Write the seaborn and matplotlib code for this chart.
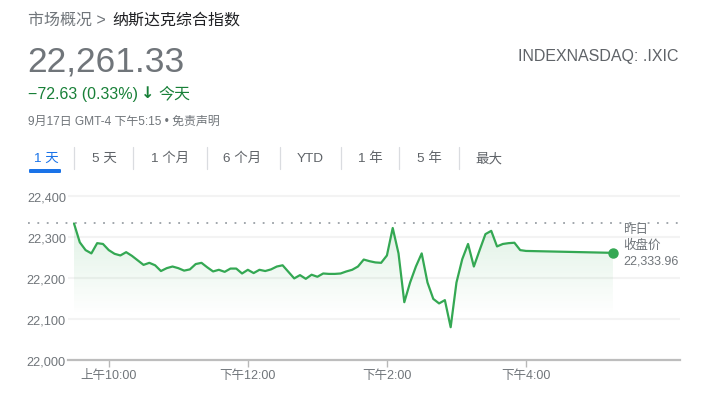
import numpy as np
import pandas as pd
import matplotlib
matplotlib.use("Agg")
import matplotlib.pyplot as plt
import seaborn as sns
from matplotlib.colors import to_rgb
from matplotlib.patches import FancyBboxPatch
from matplotlib.lines import Line2D

# ---------------- data ----------------
session_times = list(pd.date_range("2025-09-17 09:30", "2025-09-17 16:00", freq="5min").strftime("%H:%M")) + ["17:15"]
prices = [
    22333, 22287, 22268, 22260, 22285, 22283, 22268, 22259, 22255, 22263,
    22254, 22243, 22232, 22237, 22231, 22217, 22224, 22228, 22224, 22218,
    22221, 22234, 22237, 22226, 22216, 22220, 22215, 22223, 22223, 22211,
    22220, 22212, 22220, 22217, 22221, 22228, 22231, 22215, 22199, 22207,
    22198, 22208, 22203, 22211, 22210, 22210, 22211, 22216, 22220, 22228,
    22245, 22241, 22238, 22237, 22255, 22322, 22260, 22141, 22189, 22228,
    22260, 22189, 22149, 22138, 22146, 22080, 22189, 22246, 22283, 22228,
    22268, 22307, 22315, 22277, 22283, 22285, 22286, 22268, 22266,
    22261.33,
]
prev_close = 22333.96
y_ticks = [22000, 22100, 22200, 22300, 22400]
y_tick_labels = ["22,000", "22,100", "22,200", "22,300", "22,400"]
x_tick_times = ["10:00", "12:00", "14:00", "16:00"]
x_tick_labels = ["上午10:00", "下午12:00", "下午2:00", "下午4:00"]
tabs = ["1 天", "5 天", "1 个月", "6 个月", "YTD", "1 年", "5 年", "最大"]

def to_min(t):
    h, m = t.split(":")
    return int(h) * 60 + int(m)

df = pd.DataFrame({"t": [to_min(t) for t in session_times], "price": prices})

# ---------------- style ----------------
sns.set_theme(style="white")
plt.rcParams["font.family"] = ["Liberation Sans", "Noto Sans CJK SC", "DejaVu Sans"]

W, H = 722, 402
fig = plt.figure(figsize=(W / 100, H / 100), dpi=100)

def fx(x):
    return x / W

def fy(y):
    return 1 - y / H

GREEN = "#34a853"
GRAY = "#70757a"
DARK = "#202124"

# axes placement
ymin, ymax = 22000, 22420
px_per_unit = 0.41
ax_left, ax_right, ax_bottom = 68, 680, 361
ax_top = ax_bottom - (ymax - ymin) * px_per_unit
ax = fig.add_axes([fx(ax_left), fy(ax_bottom), (ax_right - ax_left) / W, (ax_bottom - ax_top) / H])

xmin = 570 - 6 / 1.159
xmax = 960 + (680 - 526) / 1.159

# gradient fill under line
poly = ax.fill_between(df["t"], df["price"], 22110, color="none", lw=0)
grad = np.linspace(0.16, 0.0, 256)
rgba = np.zeros((256, 1, 4))
rgba[..., :3] = to_rgb(GREEN)
rgba[:, 0, 3] = grad
im = ax.imshow(rgba, extent=[df["t"].min(), df["t"].max(), 22110, 22340],
               aspect="auto", origin="upper", zorder=1, interpolation="bilinear")
im.set_clip_path(poly.get_paths()[0], transform=ax.transData)

# grid lines
for v in [22100, 22200, 22300, 22400]:
    ax.axhline(v, color="#f3f3f3", lw=1.5, zorder=0.5)

# line
sns.lineplot(data=df, x="t", y="price", ax=ax, color=GREEN, lw=1.6, zorder=3)
ax.plot([df["t"].iloc[-1]], [df["price"].iloc[-1]], "o", color=GREEN, ms=6.5, zorder=4)

# previous close dotted line (extends left beyond the axes)
ax.plot([-0.066, 1.0], [prev_close, prev_close], transform=ax.get_yaxis_transform(),
        color="#9aa0a6", lw=1.3, ls=(0, (1, 4.2)), clip_on=False, zorder=2)

ax.set_xlim(xmin, xmax)
ax.set_ylim(ymin, ymax)
ax.set_xlabel("")
ax.set_ylabel("")
ax.set_yticks(y_ticks)
ax.set_yticklabels(y_tick_labels)
ax.set_xticks([to_min(t) for t in x_tick_times])
ax.set_xticklabels(x_tick_labels)
ax.tick_params(axis="y", length=0, pad=1.5, labelsize=9.2, labelcolor=GRAY)
ax.tick_params(axis="x", length=5, width=1, color="#b8b8b8", direction="out",
               pad=1.2, labelsize=9, labelcolor=GRAY, bottom=True)
for s in ["top", "right", "left"]:
    ax.spines[s].set_visible(False)
ax.spines["bottom"].set_color("#bdbdbd")
ax.spines["bottom"].set_linewidth(1.6)
ax.patch.set_alpha(0)

# previous close label
fig.text(fx(623), fy(230), "昨日", fontsize=9, color=GRAY, va="center", ha="left")
fig.text(fx(623), fy(246), "收盘价", fontsize=9, color=GRAY, va="center", ha="left")
fig.text(fx(623), fy(261), "22,333.96", fontsize=9, color=GRAY, va="center", ha="left")

# ---------------- header ----------------
fig.text(fx(28), fy(25), "市场概况 >", fontsize=11.5, color=GRAY, va="baseline", ha="left")
fig.text(fx(112), fy(25), "纳斯达克综合指数", fontsize=11.5, color=DARK, va="baseline", ha="left")
fig.text(fx(27), fy(72), "22,261.33", fontsize=25.5, color=GRAY, va="baseline", ha="left")
fig.text(fx(679), fy(61), "INDEXNASDAQ: .IXIC", fontsize=11.5, color="#5f6368", va="baseline", ha="right")

GREEN_TXT = "#188038"
fig.text(fx(28), fy(98.5), "−72.63 (0.33%)", fontsize=11.5, color=GREEN_TXT, va="baseline", ha="left")
fig.text(fx(148), fy(93), "↓", fontsize=11.5, color=GREEN_TXT, va="center", ha="center",
         family="DejaVu Sans", fontweight="bold")
fig.text(fx(158), fy(98.5), "今天", fontsize=11.5, color=GREEN_TXT, va="baseline", ha="left")
fig.text(fx(28), fy(125), "9月17日 GMT-4 下午5:15 • 免责声明", fontsize=8.6, color=GRAY,
         va="baseline", ha="left")

# tabs
tab_centers = [46, 104, 170, 242, 310, 370, 429, 489]
for i, (lab, cx) in enumerate(zip(tabs, tab_centers)):
    fig.text(fx(cx), fy(159), lab, fontsize=9.7, color="#1a73e8" if i == 0 else "#5f6368",
             va="center", ha="center")
for sx in [74, 133, 207, 280, 341, 399, 459]:
    fig.add_artist(Line2D([fx(sx), fx(sx)], [fy(148), fy(170)], color="#dadce0", lw=0.9))
bar = FancyBboxPatch((fx(29), fy(174)), fx(32), (4 / H), boxstyle="round,pad=0,rounding_size=0.002",
                     transform=fig.transFigure, facecolor="#1a73e8", edgecolor="none")
fig.add_artist(bar)

fig.savefig("out.png", dpi=100)
